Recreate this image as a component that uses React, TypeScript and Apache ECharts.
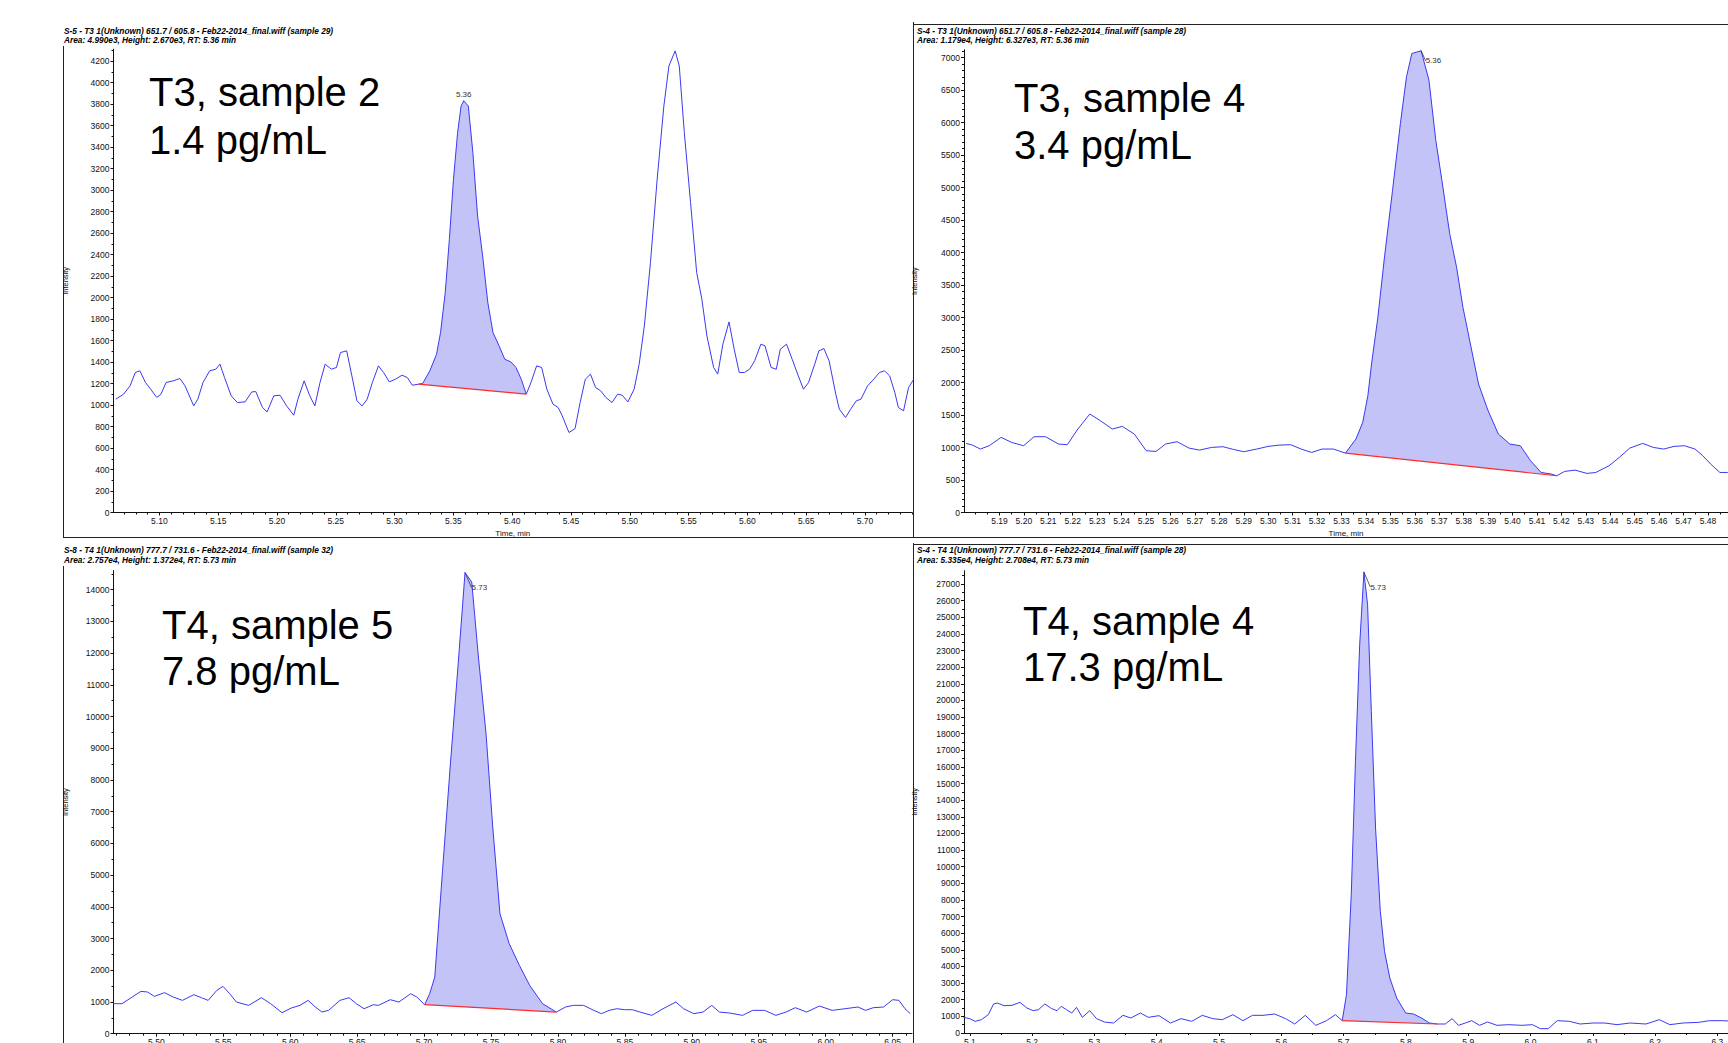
import React, { useEffect, useRef } from "react";
import * as echarts from "echarts";

// ---------- Panel 1: T3, sample 2 ----------
const p1Time = [5.0629,5.0695,5.0751,5.0795,5.0834,5.0882,5.0926,5.0978,5.1013,5.1057,5.1118,5.1175,5.1218,5.1292,5.1327,5.1371,5.1428,5.1480,5.1515,5.1554,5.1611,5.1663,5.1729,5.1786,5.1820,5.1877,5.1916,5.1973,5.2026,5.2082,5.2143,5.2178,5.2231,5.2279,5.2322,5.2366,5.2410,5.2462,5.2506,5.2540,5.2593,5.2637,5.2680,5.2724,5.2767,5.2811,5.2863,5.2907,5.2955,5.3007,5.3064,5.3108,5.3151,5.3204,5.3239,5.3300,5.3357,5.3391,5.3431,5.3466,5.3501,5.3536,5.3566,5.3588,5.3627,5.3666,5.3706,5.3749,5.3793,5.3837,5.3889,5.3937,5.3989,5.4033,5.4077,5.4120,5.4155,5.4208,5.4251,5.4295,5.4347,5.4391,5.4426,5.4483,5.4535,5.4578,5.4622,5.4666,5.4709,5.4753,5.4797,5.4849,5.4897,5.4936,5.4984,5.5037,5.5080,5.5124,5.5176,5.5233,5.5290,5.5333,5.5386,5.5421,5.5464,5.5517,5.5569,5.5613,5.5656,5.5713,5.5748,5.5792,5.5844,5.5888,5.5931,5.5975,5.6019,5.6062,5.6115,5.6150,5.6202,5.6246,5.6280,5.6333,5.6381,5.6433,5.6477,5.6520,5.6573,5.6608,5.6651,5.6695,5.6752,5.6782,5.6835,5.6878,5.6926,5.6966,5.7022,5.7075,5.7123,5.7166,5.7210,5.7254,5.7284,5.7328,5.7371,5.7415];
const p1Intensity = [1054,1100,1178,1302,1318,1209,1147,1070,1100,1209,1225,1246,1178,992,1054,1209,1318,1333,1380,1256,1085,1023,1029,1122,1125,977,936,1085,1091,992,905,1054,1225,1085,992,1209,1380,1333,1349,1488,1504,1271,1039,992,1054,1209,1364,1302,1215,1240,1277,1256,1184,1194,1200,1318,1473,1674,2046,2542,3100,3534,3782,3829,3782,3348,2759,2387,1953,1674,1550,1426,1401,1349,1240,1101,1194,1364,1349,1147,1008,977,899,744,781,1023,1240,1287,1163,1132,1070,1023,1101,1091,1029,1147,1380,1736,2325,3100,3782,4154,4294,4154,3534,2883,2232,1984,1643,1349,1287,1566,1773,1519,1302,1302,1333,1411,1566,1550,1349,1333,1519,1566,1426,1271,1147,1209,1380,1504,1525,1411,1101,961,884,961,1039,1054,1178,1240,1302,1318,1271,1116,977,946,1163,1240];
const p1PeakStart = 53, p1PeakApex = 63, p1PeakEnd = 75;
const p1XTicks = [5.10,5.15,5.20,5.25,5.30,5.35,5.40,5.45,5.50,5.55,5.60,5.65,5.70];
const p1YTicks = [0,200,400,600,800,1000,1200,1400,1600,1800,2000,2200,2400,2600,2800,3000,3200,3400,3600,3800,4000,4200];

// ---------- Panel 2: T3, sample 4 ----------
const p2Time = [5.1764,5.1790,5.1822,5.1858,5.1907,5.1950,5.1999,5.2042,5.2089,5.2142,5.2178,5.2221,5.2270,5.2313,5.2362,5.2403,5.2452,5.2501,5.2541,5.2580,5.2627,5.2676,5.2719,5.2768,5.2815,5.2857,5.2900,5.2953,5.3000,5.3045,5.3092,5.3135,5.3178,5.3220,5.3267,5.3316,5.3359,5.3387,5.3408,5.3423,5.3449,5.3476,5.3509,5.3541,5.3566,5.3588,5.3626,5.3658,5.3686,5.3711,5.3743,5.3771,5.3797,5.3822,5.3861,5.3899,5.3942,5.3989,5.4032,5.4074,5.4117,5.4160,5.4181,5.4213,5.4256,5.4305,5.4341,5.4395,5.4437,5.4480,5.4533,5.4576,5.4619,5.4661,5.4704,5.4747,5.4779,5.4811,5.4849,5.4881];
const p2Intensity = [1063,1037,976,1027,1156,1078,1027,1166,1166,1053,1043,1284,1515,1412,1284,1325,1207,950,940,1053,1089,991,960,1001,1012,971,935,976,1017,1037,1043,976,924,976,976,914,1130,1387,1797,2285,3004,3929,4956,5983,6702,7062,7103,6651,5726,5110,4288,3775,3158,2696,1977,1577,1207,1053,1027,796,616,591,565,632,652,601,616,719,847,991,1063,1001,976,1017,1027,976,873,745,616,616];
const p2PeakStart = 35, p2PeakApex = 46, p2PeakEnd = 62;
const p2XTicks = [5.19,5.20,5.21,5.22,5.23,5.24,5.25,5.26,5.27,5.28,5.29,5.30,5.31,5.32,5.33,5.34,5.35,5.36,5.37,5.38,5.39,5.40,5.41,5.42,5.43,5.44,5.45,5.46,5.47,5.48];
const p2YTicks = [0,500,1000,1500,2000,2500,3000,3500,4000,4500,5000,5500,6000,6500,7000];

// ---------- Panel 3: T4, sample 5 ----------
const p3Time = [5.4648,5.4743,5.4820,5.4885,5.4935,5.4985,5.5061,5.5126,5.5195,5.5280,5.5337,5.5387,5.5452,5.5498,5.5548,5.5598,5.5690,5.5785,5.5854,5.5939,5.6008,5.6073,5.6134,5.6188,5.6237,5.6287,5.6372,5.6440,5.6494,5.6552,5.6621,5.6659,5.6747,5.6812,5.6900,5.6946,5.7004,5.7042,5.7080,5.7138,5.7195,5.7253,5.7306,5.7356,5.7406,5.7463,5.7513,5.7567,5.7636,5.7712,5.7789,5.7885,5.7988,5.8057,5.8115,5.8191,5.8268,5.8325,5.8383,5.8440,5.8498,5.8555,5.8613,5.8701,5.8785,5.8881,5.8938,5.9015,5.9084,5.9149,5.9206,5.9283,5.9379,5.9455,5.9544,5.9628,5.9704,5.9773,5.9858,5.9953,6.0049,6.0145,6.0241,6.0298,6.0356,6.0432,6.0501,6.0547,6.0593,6.0632];
const p3Intensity = [946,946,1156,1335,1314,1177,1293,1156,1051,1230,1135,1051,1366,1492,1261,998,893,1135,946,662,809,893,1051,841,683,736,1051,1135,946,788,914,893,1072,998,1261,1156,914,1261,1787,5150,8408,11561,14535,14241,11876,9459,6516,3784,2838,2155,1524,946,683,841,893,893,736,631,736,788,757,757,683,578,788,998,788,631,683,893,683,652,578,736,736,578,683,820,683,872,736,788,841,736,820,841,1072,1051,788,631];
const p3PeakStart = 36, p3PeakApex = 42, p3PeakEnd = 52;
const p3XTicks = [5.50,5.55,5.60,5.65,5.70,5.75,5.80,5.85,5.90,5.95,6.00,6.05];
const p3YTicks = [0,1000,2000,3000,4000,5000,6000,7000,8000,9000,10000,11000,12000,13000,14000];

// ---------- Panel 4: T4, sample 4 ----------
const p4Time = [5.0898,5.1000,5.1085,5.1187,5.1297,5.1382,5.1441,5.1551,5.1678,5.1806,5.1916,5.2018,5.2102,5.2204,5.2314,5.2399,5.2467,5.2552,5.2637,5.2713,5.2806,5.2925,5.3035,5.3162,5.3307,5.3459,5.3586,5.3739,5.3866,5.4036,5.4222,5.4392,5.4562,5.4731,5.4901,5.5053,5.5223,5.5384,5.5537,5.5706,5.5893,5.6071,5.6215,5.6385,5.6554,5.6724,5.6868,5.6978,5.7046,5.7123,5.7190,5.7258,5.7326,5.7385,5.7445,5.7513,5.7589,5.7657,5.7742,5.7852,5.7996,5.8123,5.8250,5.8378,5.8505,5.8632,5.8742,5.8844,5.8954,5.9056,5.9183,5.9310,5.9463,5.9650,5.9862,6.0031,6.0158,6.0286,6.0430,6.0625,6.0794,6.1006,6.1193,6.1388,6.1600,6.1854,6.2066,6.2236,6.2448,6.2702,6.2872,6.3084,6.3279];
const p4Intensity = [942,862,701,802,1102,1743,1804,1643,1663,1844,1503,1343,1403,1743,1463,1343,1603,1403,1202,1543,942,1343,862,661,601,1062,902,1202,942,1042,601,862,701,1062,862,802,1102,741,1062,1062,1142,862,541,1062,461,741,1102,741,2305,8317,16333,23347,27715,25751,19339,12325,7315,4910,3307,2104,1202,1142,902,601,541,541,862,461,601,741,461,661,461,501,461,501,261,261,741,701,541,601,601,501,601,541,802,501,601,641,741,741,701];
const p4PeakStart = 47, p4PeakApex = 52, p4PeakEnd = 64;
const p4XTicks = [5.1,5.2,5.3,5.4,5.5,5.6,5.7,5.8,5.9,6.0,6.1,6.2,6.3];
const p4YTicks = [0,1000,2000,3000,4000,5000,6000,7000,8000,9000,10000,11000,12000,13000,14000,15000,16000,17000,18000,19000,20000,21000,22000,23000,24000,25000,26000,27000];

// ---------- Texts ----------
const headers = [
  ["S-5 - T3 1(Unknown) 651.7 / 605.8 - Feb22-2014_final.wiff (sample 29)", "Area: 4.990e3, Height: 2.670e3, RT: 5.36 min"],
  ["S-4 - T3 1(Unknown) 651.7 / 605.8 - Feb22-2014_final.wiff (sample 28)", "Area: 1.179e4, Height: 6.327e3, RT: 5.36 min"],
  ["S-8 - T4 1(Unknown) 777.7 / 731.6 - Feb22-2014_final.wiff (sample 32)", "Area: 2.757e4, Height: 1.372e4, RT: 5.73 min"],
  ["S-4 - T4 1(Unknown) 777.7 / 731.6 - Feb22-2014_final.wiff (sample 28)", "Area: 5.335e4, Height: 2.708e4, RT: 5.73 min"],
];
const sampleNames = ["T3, sample 2", "T3, sample 4", "T4, sample 5", "T4, sample 4"];
const concentrations = ["1.4 pg/mL", "3.4 pg/mL", "7.8 pg/mL", "17.3 pg/mL"];

const FONT = '"Liberation Sans", Arial, sans-serif';
const BLUE = "#3a3af2";
const RED = "#ff2a2a";
const FILL = "rgba(80,80,232,0.34)";
const AXIS = "#111";

function steps(a: number, b: number, st: number) {
  const out: number[] = [];
  for (let v = a; v <= b + 1e-9; v += st) out.push(+v.toFixed(4));
  return out;
}

const panels = [
  {
    time: p1Time, inten: p1Intensity, s: p1PeakStart, apex: p1PeakApex, e: p1PeakEnd,
    grid: { left: 113.5, top: 49.2, width: 798.5, height: 463.3 },
    xMin: 5.061, xMax: 5.74, yMax: 4310, xTicks: p1XTicks, xMinor: steps(5.07, 5.74, 0.01), xDec: 2,
    yTicks: p1YTicks, yMinor: steps(100, 4300, 100), xName: true, labelTop: true,
    header: { x: 64, y1: 31, y2: 40 }, big: { x: 149, y1: 91.5, y2: 140 }, nameGap: 44,
  },
  {
    time: p2Time, inten: p2Intensity, s: p2PeakStart, apex: p2PeakApex, e: p2PeakEnd,
    grid: { left: 964, top: 49.7, width: 764, height: 462.8 },
    xMin: 5.1755, xMax: 5.4882, yMax: 7120, xTicks: p2XTicks, xMinor: steps(5.18, 5.485, 0.005), xDec: 2,
    yTicks: p2YTicks, yMinor: steps(100, 7100, 100), xName: true, labelTop: false, dx: 1, dy: 10,
    header: { x: 917, y1: 31, y2: 40 }, big: { x: 1014, y1: 98, y2: 144.5 }, nameGap: 46,
  },
  {
    time: p3Time, inten: p3Intensity, s: p3PeakStart, apex: p3PeakApex, e: p3PeakEnd,
    grid: { left: 113.5, top: 570.6, width: 798.5, height: 463.1 },
    xMin: 5.468, xMax: 6.0645, yMax: 14600, xTicks: p3XTicks, xMinor: steps(5.47, 6.06, 0.01), xDec: 2,
    yTicks: p3YTicks, yMinor: steps(500, 14500, 500), xName: false, labelTop: false, dx: 3, dy: 15,
    header: { x: 64, y1: 550, y2: 560 }, big: { x: 162, y1: 625, y2: 671 }, nameGap: 44,
  },
  {
    time: p4Time, inten: p4Intensity, s: p4PeakStart, apex: p4PeakApex, e: p4PeakEnd,
    grid: { left: 964, top: 570.7, width: 764, height: 462.3 },
    xMin: 5.0907, xMax: 6.317, yMax: 27800, xTicks: p4XTicks, xMinor: steps(5.1, 6.3, 0.05), xDec: 1,
    yTicks: p4YTicks, yMinor: steps(500, 27500, 500), xName: false, labelTop: false, dx: 3, dy: 15,
    header: { x: 917, y1: 550, y2: 560 }, big: { x: 1023, y1: 620.5, y2: 667 }, nameGap: 46,
  },
];

function buildOption() {
  const grid: any[] = [];
  const xAxis: any[] = [];
  const yAxis: any[] = [];
  const series: any[] = [];
  const graphic: any[] = [];

  panels.forEach((p, i) => {
    grid.push({ ...p.grid, containLabel: false, outerBoundsMode: "none" });
    xAxis.push({
      type: "value", gridIndex: i, min: p.xMin, max: p.xMax, position: "bottom",
      axisLine: { show: true, onZero: false, lineStyle: { color: AXIS, width: 1 } },
      axisTick: { show: true, customValues: p.xTicks, length: 3, lineStyle: { color: AXIS } },
      axisLabel: {
        customValues: p.xTicks, formatter: (v: number) => v.toFixed(p.xDec),
        fontSize: 8.5, color: "#111", margin: 4, fontFamily: FONT, hideOverlap: false,
      },
      splitLine: { show: false },
      name: p.xName ? "Time, min" : "", nameLocation: "middle", nameGap: 17,
      nameTextStyle: { fontSize: 8, color: "#111", fontFamily: FONT },
    });
    xAxis.push({
      type: "value", gridIndex: i, min: p.xMin, max: p.xMax, position: "bottom",
      axisLine: { show: false, onZero: false },
      axisTick: { show: true, customValues: p.xMinor, length: 2, lineStyle: { color: AXIS } },
      axisLabel: { show: false },
      splitLine: { show: false },
    });
    yAxis.push({
      type: "value", gridIndex: i, min: 0, max: p.yMax, position: "left",
      axisLine: { show: true, onZero: false, lineStyle: { color: AXIS, width: 1 } },
      axisTick: { show: true, customValues: p.yTicks, length: 3, lineStyle: { color: AXIS } },
      axisLabel: {
        customValues: p.yTicks, fontSize: 8.5, color: "#111", margin: 4, fontFamily: FONT,
        formatter: (v: number) => String(v), hideOverlap: false,
      },
      splitLine: { show: false },
      name: "Intensity", nameLocation: "middle", nameGap: p.nameGap, nameRotate: 90,
      nameTextStyle: { fontSize: 7.5, color: "#111", fontFamily: FONT },
    });
    yAxis.push({
      type: "value", gridIndex: i, min: 0, max: p.yMax, position: "left",
      axisLine: { show: false, onZero: false },
      axisTick: { show: true, customValues: p.yMinor, length: 2, lineStyle: { color: AXIS } },
      axisLabel: { show: false },
      splitLine: { show: false },
    });

    const xi = 2 * i, yi = 2 * i;
    const { time, inten, s, e, apex } = p;

    // shaded integrated area between the trace and the baseline
    series.push({
      type: "custom", xAxisIndex: xi, yAxisIndex: yi, silent: true, z: 1,
      data: [[time[s], inten[s]]],
      renderItem: (_params: any, api: any) => {
        const pts: number[][] = [];
        for (let k = s; k <= e; k++) pts.push(api.coord([time[k], inten[k]]));
        return { type: "polygon", shape: { points: pts }, style: { fill: FILL, stroke: null } };
      },
    });

    const peakLabel = p.labelTop
      ? { show: true, position: "top", distance: 2, formatter: () => time[apex].toFixed(2), fontSize: 8, color: "#333", fontFamily: FONT }
      : { show: true, position: "right", distance: 3, formatter: () => time[apex].toFixed(2), fontSize: 8, color: "#333", fontFamily: FONT };

    series.push({
      type: "line", xAxisIndex: xi, yAxisIndex: yi, z: 3, silent: true,
      symbol: "none", showSymbol: true,
      lineStyle: { color: BLUE, width: 1 },
      itemStyle: { color: BLUE },
      data: time.map((t, k) =>
        k === apex
          ? { value: [t, inten[k]], symbol: "circle", symbolSize: 1, label: peakLabel,
              labelLine: { show: !p.labelTop, lineStyle: { color: "#333", width: 0.8 } } }
          : [t, inten[k]]
      ),
      labelLayout: p.labelTop ? undefined : { dx: p.dx, dy: p.dy },
    });

    series.push({
      type: "line", xAxisIndex: xi, yAxisIndex: yi, z: 4, silent: true, symbol: "none",
      lineStyle: { color: RED, width: 1.2 },
      data: [[time[s], inten[s]], [time[e], inten[e]]],
    });

    graphic.push(
      { type: "text", x: p.header.x, y: p.header.y1, style: { text: headers[i][0], font: `italic bold 8.3px ${FONT}`, fill: "#000", verticalAlign: "middle" } },
      { type: "text", x: p.header.x, y: p.header.y2, style: { text: headers[i][1], font: `italic bold 8.3px ${FONT}`, fill: "#000", verticalAlign: "middle" } },
      { type: "text", x: p.big.x, y: p.big.y1, style: { text: sampleNames[i], font: `40px ${FONT}`, fill: "#000", verticalAlign: "middle" } },
      { type: "text", x: p.big.x, y: p.big.y2, style: { text: concentrations[i], font: `40px ${FONT}`, fill: "#000", verticalAlign: "middle" } },
    );
  });

  const frame = (x1: number, y1: number, x2: number, y2: number) => ({
    type: "line", shape: { x1, y1, x2, y2 }, style: { stroke: "#222", lineWidth: 1 }, silent: true,
  });
  graphic.push(
    frame(63.5, 46, 63.5, 538),
    frame(63.5, 537.5, 1728, 537.5),
    frame(913.5, 22, 913.5, 538),
    frame(913.5, 24.5, 1728, 24.5),
    frame(63.5, 566, 63.5, 1043),
    frame(913.5, 543, 913.5, 1043),
    frame(913.5, 544.5, 1728, 544.5),
  );

  return { animation: false, backgroundColor: "#fff", grid, xAxis, yAxis, series, graphic };
}

export default function App() {
  const ref = useRef<HTMLDivElement>(null);
  useEffect(() => {
    if (!ref.current) return;
    const chart = echarts.init(ref.current, undefined, { renderer: "svg" });
    chart.setOption(buildOption() as any);
    return () => chart.dispose();
  }, []);
  return (
    <div
      ref={ref}
      style={{ position: "absolute", left: 0, top: 0, width: 1728, height: 1043, background: "#fff" }}
    />
  );
}
